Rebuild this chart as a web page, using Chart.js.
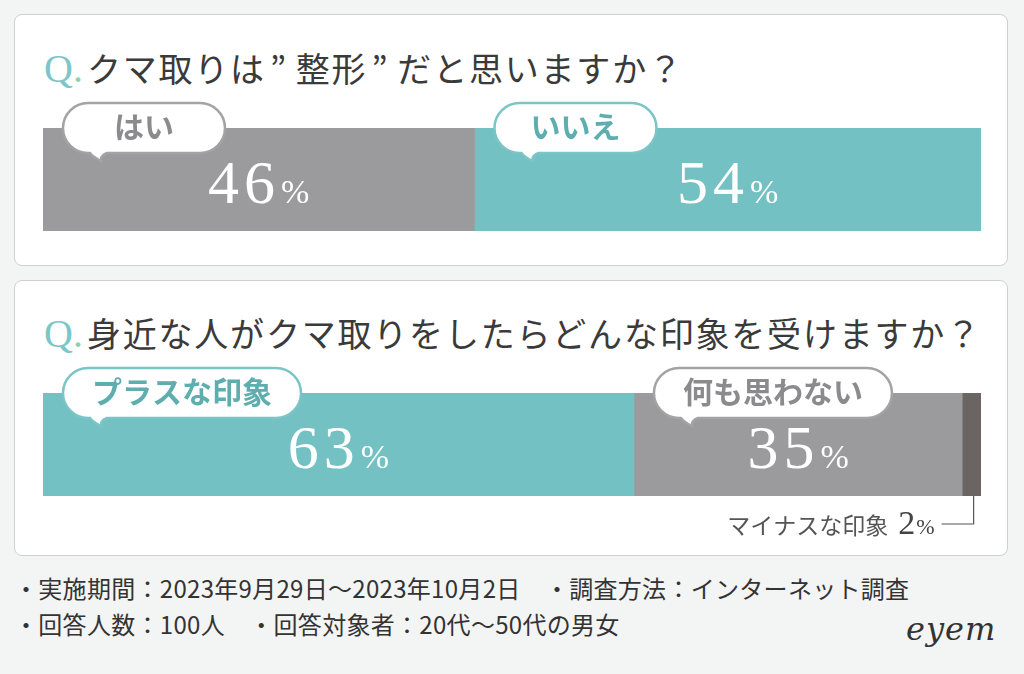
<!DOCTYPE html>
<html lang="ja">
<head>
<meta charset="utf-8">
<script src="https://cdn.jsdelivr.net/npm/chart.js@4.4.1/dist/chart.umd.min.js"></script>
<style>
  html, body { margin: 0; padding: 0; }
  body { width: 1024px; height: 674px; background: #f3f5f4; position: relative; overflow: hidden; font-family: "Noto Sans CJK JP", sans-serif; color: #333; }
  .card { position: absolute; left: 14px; width: 992px; background: #fff; border: 1px solid #cfd1d0; border-radius: 8px; }
  .title { position: absolute; left: 44px; height: 40px; line-height: 40px; font-size: 34px; letter-spacing: 1.8px; white-space: nowrap; color: #3a3a3a; }
  .title .q { font-family: "Liberation Serif", serif; font-size: 40px; color: #7cc6c9; letter-spacing: 0; margin-right: 4px; }
  .title .q i { font-style: normal; color: #8fd0b4; }
  .title .dq { display: inline-block; margin: 0 8px 0 4px; }
  canvas { position: absolute; left: 14px; }
  .foot { position: absolute; left: 14px; font-size: 24px; letter-spacing: 0.3px; line-height: 36px; color: #333; white-space: nowrap; }
  .logo { position: absolute; left: 906px; top: 610px; font-family: "DejaVu Serif", serif; font-style: italic; font-size: 32px; color: #333; letter-spacing: 1px; }
</style>
</head>
<body>
<div class="card" style="top:14px;height:250px;"></div>
<div class="card" style="top:280px;height:274px;"></div>

<div class="title" style="top:48px;"><span class="q">Q<i>.</i></span>クマ取りは<span class="dq">”</span>整形<span class="dq">”</span>だと思いますか？</div>
<div class="title" style="top:313px;"><span class="q">Q<i>.</i></span>身近な人がクマ取りをしたらどんな印象を受けますか？</div>

<canvas id="chartQ1" width="994" height="155" style="top:95px;"></canvas>
<canvas id="chartQ2" width="994" height="195" style="top:355px;"></canvas>

<div class="foot" style="top:570px;">・実施期間：2023年9月29日～2023年10月2日　・調査方法：インターネット調査</div>
<div class="foot" style="top:606px;">・回答人数：100人　・回答対象者：20代～50代の男女</div>
<div class="logo">eyem</div>

<script>
var q1Labels = ['はい', 'いいえ'];
var q1Values = [46, 54];
var q2Labels = ['プラスな印象', '何も思わない', 'マイナスな印象'];
var q2Values = [63, 35, 2];

var TEAL = '#73c1c2';
var GRAY = '#9b9b9d';
var DARK = '#6a6462';

function drawBubble(ctx, bx, by, text, lineColor, textColor) {
    ctx.save();
    ctx.font = 'bold 30px "Noto Sans CJK JP"';
    var tw = ctx.measureText(text).width;
    var w = Math.max(162, tw + 58);
    var h = 50;
    var r = h / 2;
    ctx.beginPath();
    ctx.moveTo(bx + r, by);
    ctx.lineTo(bx + w - r, by);
    ctx.arc(bx + w - r, by + r, r, -Math.PI / 2, Math.PI / 2);
    ctx.lineTo(bx + 44, by + h);
    ctx.quadraticCurveTo(bx + 37, by + h + 3, bx + 38, by + h + 8);
    ctx.quadraticCurveTo(bx + 30, by + h + 4, bx + 27, by + h);
    ctx.lineTo(bx + r, by + h);
    ctx.arc(bx + r, by + r, r, Math.PI / 2, Math.PI * 1.5);
    ctx.closePath();
    ctx.fillStyle = '#fff';
    ctx.fill();
    ctx.lineWidth = 2.5;
    ctx.strokeStyle = lineColor;
    ctx.stroke();
    ctx.fillStyle = textColor;
    ctx.textAlign = 'center';
    ctx.textBaseline = 'middle';
    ctx.fillText(text, bx + w / 2, by + h / 2 - 1);
    ctx.restore();
}

function drawPercent(ctx, cx, baseline, value) {
    var num = String(value);
    ctx.save();
    ctx.font = '62px "Liberation Serif"';
    var spacing = 5;
    var widths = num.split('').map(function (c) { return ctx.measureText(c).width; });
    var nw = widths.reduce(function (a, b) { return a + b; }, 0) + spacing * (num.length - 1);
    ctx.font = '34px "Liberation Serif"';
    var pw = ctx.measureText('%').width;
    var x = cx - (nw + 6 + pw) / 2;
    ctx.fillStyle = '#fff';
    ctx.textBaseline = 'alphabetic';
    ctx.font = '62px "Liberation Serif"';
    num.split('').forEach(function (c, i) {
        ctx.fillText(c, x, baseline);
        x += widths[i] + spacing;
    });
    x += 6 - spacing;
    ctx.font = '34px "Liberation Serif"';
    ctx.fillText('%', x, baseline);
    ctx.restore();
}

function drawNote(ctx, cx, bottom, label, value) {
    ctx.save();
    var ly = bottom + 28;
    ctx.strokeStyle = '#555';
    ctx.lineWidth = 1.2;
    ctx.beginPath();
    ctx.moveTo(cx, bottom);
    ctx.lineTo(cx, ly);
    ctx.lineTo(cx - 32, ly);
    ctx.stroke();
    var base = ly + 10;
    var x = cx - 39;
    ctx.fillStyle = '#444';
    ctx.textAlign = 'right';
    ctx.textBaseline = 'alphabetic';
    ctx.font = '22px "Liberation Serif"';
    ctx.fillText('%', x, base);
    x -= ctx.measureText('%').width + 1;
    ctx.font = '34px "Liberation Serif"';
    ctx.fillText(String(value), x, base);
    x -= ctx.measureText(String(value)).width + 10;
    ctx.fillStyle = '#555';
    ctx.font = '23px "Noto Sans CJK JP"';
    ctx.fillText(label, x, base);
    ctx.restore();
}

var barLabels = {
    id: 'barLabels',
    afterDatasetsDraw: function (chart) {
        var ctx = chart.ctx;
        chart.data.datasets.forEach(function (ds, i) {
            var el = chart.getDatasetMeta(i).data[0];
            var left = Math.min(el.base, el.x);
            var right = Math.max(el.base, el.x);
            var top = el.y - el.height / 2;
            var bottom = el.y + el.height / 2;
            if (ds.note) {
                drawNote(ctx, (left + right) / 2 + 2, bottom, ds.label, ds.data[0]);
                return;
            }
            drawPercent(ctx, (left + right) / 2, top + 75, ds.data[0]);
            drawBubble(ctx, left + 20, top - 25, ds.label, ds.lineColor, ds.textColor);
        });
    }
};

function makeChart(id, labels, values, colors, pad) {
    var datasets = labels.map(function (lab, i) {
        var c = colors[i];
        return {
            label: lab,
            data: [values[i]],
            backgroundColor: c,
            borderWidth: 0,
            barPercentage: 1,
            categoryPercentage: 1,
            lineColor: c === TEAL ? '#7cc5c6' : '#a3a3a5',
            textColor: c === TEAL ? '#5faeaf' : '#8b8b8d',
            note: c === DARK
        };
    });
    return new Chart(document.getElementById(id), {
        type: 'bar',
        data: { labels: ['q'], datasets: datasets },
        options: {
            indexAxis: 'y',
            responsive: false,
            animation: false,
            layout: { padding: pad },
            scales: {
                x: { stacked: true, min: 0, max: 100, display: false },
                y: { stacked: true, display: false }
            },
            plugins: { legend: { display: false }, tooltip: { enabled: false } }
        },
        plugins: [barLabels]
    });
}

makeChart('chartQ1', q1Labels, q1Values, [GRAY, TEAL], { left: 29, right: 27, top: 33, bottom: 19 });
makeChart('chartQ2', q2Labels, q2Values, [TEAL, GRAY, DARK], { left: 29, right: 27, top: 38, bottom: 54 });
</script>
</body>
</html>
